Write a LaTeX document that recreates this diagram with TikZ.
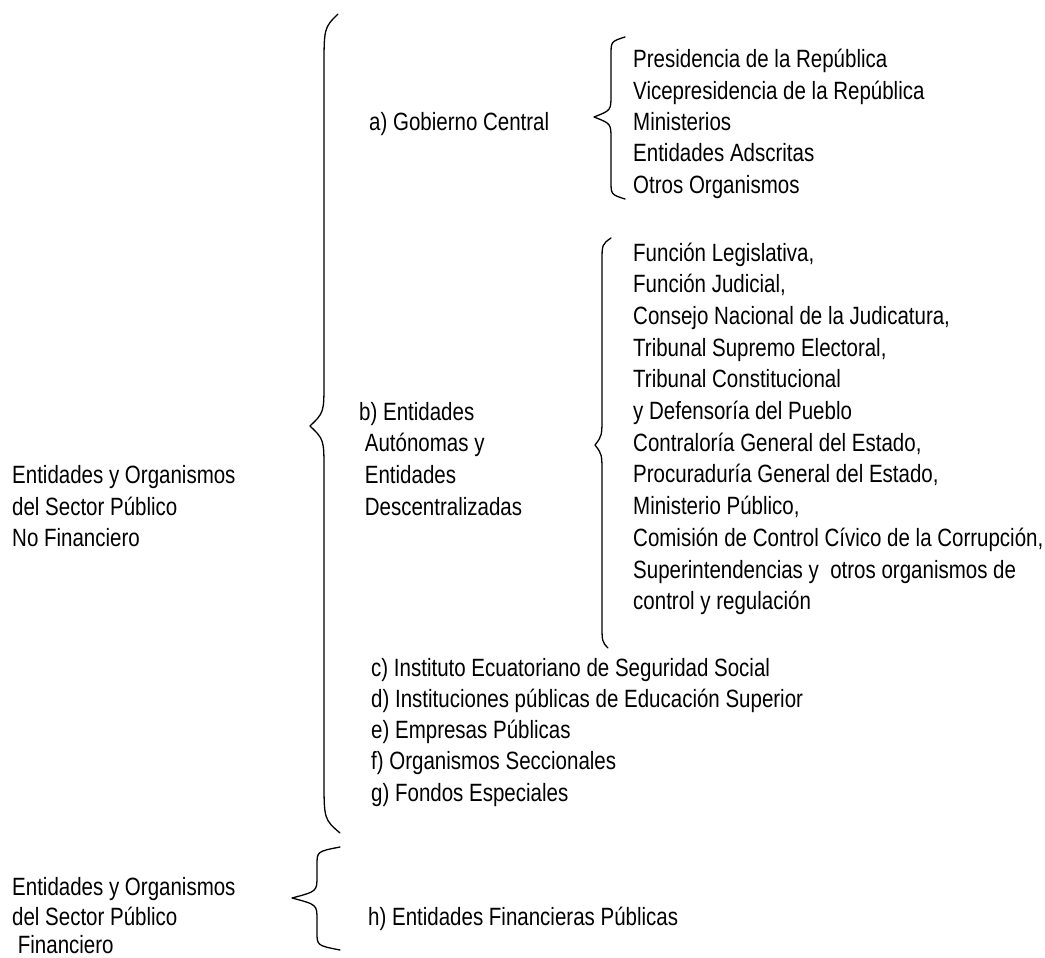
\documentclass[tikz,border=0pt]{standalone}
\usepackage{fontspec}
\setmainfont{Liberation Sans}[FakeStretch=0.82]
\newcommand\mybrace[9]{%
  \draw[bracestyle] (#1,#2) .. controls (#3,#2+0.25*#8) .. (#3,#2+#8)
    -- (#3,#5-#9) .. controls (#3,#5-0.3*#9) .. (#4,#5)
    .. controls (#3,#5+0.3*#9) .. (#3,#5+#9)
    -- (#3,#7-#8) .. controls (#3,#7-0.25*#8) .. (#6,#7);}
\tikzset{
  txt/.style={anchor=base west, inner sep=0pt, font=\fontsize{25}{31}\selectfont},
  bracestyle/.style={line width=1.3pt, line cap=round, line join=round}
}
\begin{document}
\begin{tikzpicture}[x=1pt,y=-1pt]
\useasboundingbox (0,0) rectangle (1045,958);
% braces
\mybrace{338}{14}{324}{310}{426}{340}{833}{55}{45}
\mybrace{625}{37}{611}{594}{117}{625}{199}{18}{22}
\mybrace{611}{238}{602}{595}{445}{608}{648}{25}{30}
\mybrace{340}{847}{317}{292}{898}{340}{950}{18}{22}
% left texts
\node[txt] (l1) at (12,483) {Entidades y Organismos};
\node[txt] (l2) at (12,515) {del Sector Público};
\node[txt] (l3) at (12,546) {No Financiero};
\node[txt] (m1) at (12,895) {Entidades y Organismos};
\node[txt] (m2) at (12,925) {del Sector Público};
\node[txt] (m3) at (12,953) {\ Financiero};
% a)
\node[txt] (a) at (369,131) {a) Gobierno Central};
\foreach \t [count=\i] in {Presidencia de la República,Vicepresidencia de la República,Ministerios,Entidades Adscritas,Otros Organismos}
  \node[txt] (ra\i) at (633,{68+31.3*(\i-1)}) {\t};
% b)
\node[txt] (b1) at (359,420) {b) Entidades};
\node[txt] (b2) at (359,451) {\ Autónomas y};
\node[txt] (b3) at (359,483) {\ Entidades};
\node[txt] (b4) at (359,515) {\ Descentralizadas};
\foreach \t [count=\i] in {Función Legislativa{,},Función Judicial{,},Consejo Nacional de la Judicatura{,},Tribunal Supremo Electoral{,},Tribunal Constitucional,y Defensoría del Pueblo,Contraloría General del Estado{,},Procuraduría General del Estado{,},Ministerio Público{,},Comisión de Control Cívico de la Corrupción{,},Superintendencias y \ otros organismos de,control y regulación}
  \node[txt] (rb\i) at (633,{261+31.7*(\i-1)}) {\t};
% c)-g)
\foreach \t [count=\i] in {c) Instituto Ecuatoriano de Seguridad Social,d) Instituciones públicas de Educación Superior,e) Empresas Públicas,f) Organismos Seccionales,g) Fondos Especiales}
  \node[txt] (c\i) at (371,{676+31.25*(\i-1)}) {\t};
% h)
\node[txt] (h) at (368,925) {h) Entidades Financieras Públicas};
\end{tikzpicture}
\end{document}
